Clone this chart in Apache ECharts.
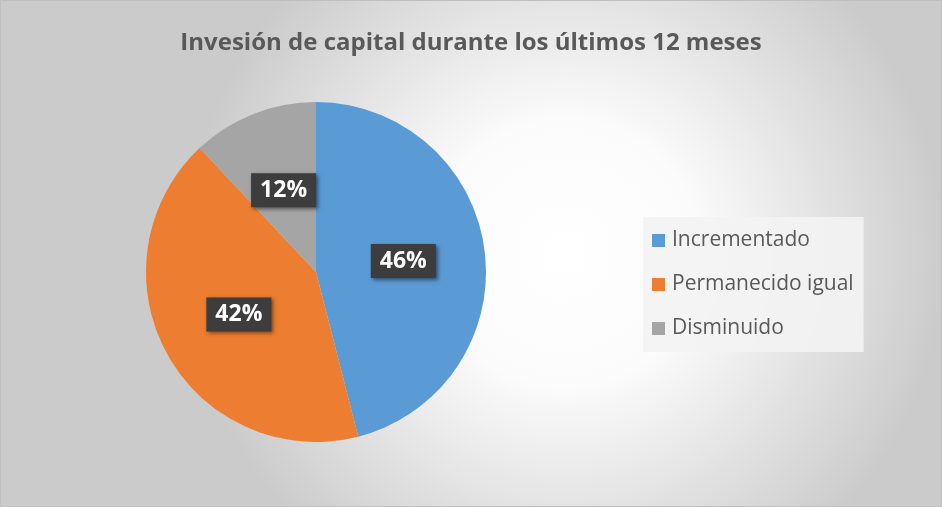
<!DOCTYPE html>
<html>
<head>
<meta charset="utf-8">
<script src="https://cdn.jsdelivr.net/npm/echarts@6/dist/echarts.min.js"></script>
<style>
  html, body { margin: 0; padding: 0; }
  #chart { width: 942px; height: 507px; }
</style>
</head>
<body>
<div id="chart"></div>
<script>
// datos del gráfico
const titleText = 'Invesión de capital durante los últimos 12 meses';
const categories = ['Incrementado', 'Permanecido igual', 'Disminuido'];
const values = [46, 42, 12];
const colors = ['#5B9BD5', '#ED7D31', '#A5A5A5'];

const chart = echarts.init(document.getElementById('chart'));

const option = {
  backgroundColor: {
    type: 'radial', x: 0.6, y: 0.5, r: 0.75,
    colorStops: [
      { offset: 0, color: '#ffffff' },
      { offset: 0.35, color: '#fbfbfb' },
      { offset: 1, color: '#cbcbcb' }
    ]
  },
  title: {
    text: titleText,
    left: 'center',
    top: 26,
    textStyle: {
      fontFamily: 'Open Sans',
      fontWeight: 'bold',
      fontSize: 24,
      color: '#595959'
    }
  },
  graphic: [
    {
      type: 'rect',
      shape: { x: 0.5, y: 0.5, width: 941, height: 506 },
      style: { fill: 'none', stroke: '#bfbfbf', lineWidth: 1 },
      silent: true
    }
  ],
  legend: {
    orient: 'vertical',
    left: 643,
    top: 217,
    itemWidth: 13,
    itemHeight: 13,
    itemGap: 23,
    padding: [13, 10, 13, 9],
    backgroundColor: 'rgba(243,243,243,0.9)',
    icon: 'rect',
    textStyle: {
      fontFamily: 'Open Sans',
      fontSize: 21,
      lineHeight: 21,
      color: '#595959',
      padding: [0, 0, 0, 2]
    },
    data: categories
  },
  series: [
    {
      type: 'pie',
      center: [316, 272],
      radius: 170,
      startAngle: 90,
      clockwise: true,
      animation: false,
      label: {
        position: 'inside',
        formatter: '{c}%',
        fontFamily: 'Open Sans',
        fontWeight: 'bold',
        fontSize: 23,
        color: '#ffffff',
        backgroundColor: '#3d3d3d',
        padding: [3, 9, 3, 9],
        shadowColor: 'rgba(0,0,0,0.5)',
        shadowBlur: 4,
        shadowOffsetX: 2,
        shadowOffsetY: 2,
        lineHeight: 28
      },
      labelLine: { show: false },
      itemStyle: { borderWidth: 0 },
      emphasis: { disabled: true },
      data: categories.map((name, i) => ({
        name: name,
        value: values[i],
        itemStyle: { color: colors[i] }
      }))
    }
  ]
};

chart.setOption(option);
</script>
</body>
</html>
